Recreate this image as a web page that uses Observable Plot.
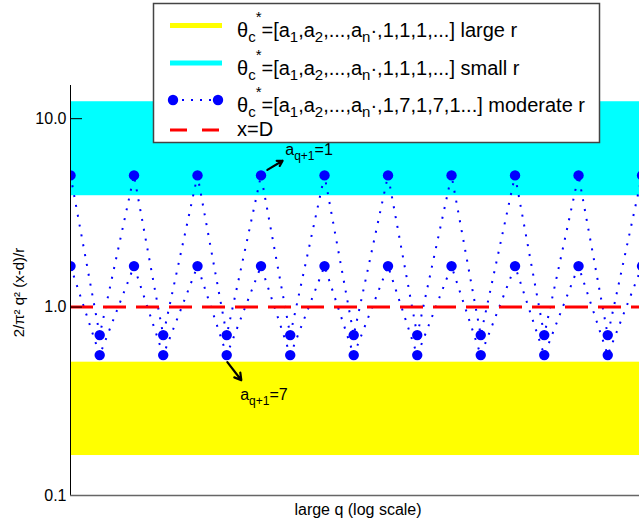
<!DOCTYPE html>
<html>
<head>
<meta charset="utf-8">
<script src="https://cdn.jsdelivr.net/npm/d3@7"></script>
<script src="https://cdn.jsdelivr.net/npm/@observablehq/plot@0.6"></script>
<style>
  body { margin: 0; background: #fff; }
  #fig { width: 639px; height: 524px; overflow: hidden; }
</style>
</head>
<body>
<div id="fig"></div>
<script>
// Convergent steps along the (log-spaced) q axis: whole steps follow a_{q+1}=1,
// the in-between steps follow a_{q+1}=7.
const qPos = [0, 0.46, 1, 1.46, 2, 2.46, 3, 3.46, 4, 4.46,
              5, 5.46, 6, 6.46, 7, 7.46, 8, 8.46, 9, 9.46];
// 2/pi^2 q^2 (x-d)/r for theta* = [a1,...,an',1,7,1,7,...], two interleaved sequences
const upperSeq = [5.0, 0.71, 5.0, 0.71, 5.0, 0.71, 5.0, 0.71, 5.0, 0.71,
                  5.0, 0.71, 5.0, 0.71, 5.0, 0.71, 5.0, 0.71, 5.0, 0.71];
const lowerSeq = [1.65, 0.556, 1.65, 0.556, 1.65, 0.556, 1.65, 0.556, 1.65, 0.556,
                  1.65, 0.556, 1.65, 0.556, 1.65, 0.556, 1.65, 0.556, 1.65, 0.556];
// ranges reached by theta* = [a1,...,an',1,1,1,...]
const largeRBand = [0.163, 0.51];
const smallRBand = [3.9, 12.3];
const xEqualsD = [1];
const yTicks = [0.1, 1, 10];
const yDomain = [0.1, 15];
const qDomain = [0, 8.96];

// annotation arrows and their labels
const arrowSpecs = [
  {x1: 3.10, y1: 5.35, x2: 3.34, y2: 5.98},
  {x1: 2.47, y1: 0.51, x2: 2.69, y2: 0.409}
];
const noteSpecs = [
  {q: 3.39, v: 6.36, value: "1"},
  {q: 2.68, v: 0.32, value: "7"}
];

const points = [
  ...qPos.map((q, i) => ({q, v: upperSeq[i], s: "upper"})),
  ...qPos.map((q, i) => ({q, v: lowerSeq[i], s: "lower"}))
];
const bands = [
  {lo: largeRBand[0], hi: largeRBand[1], color: "#ffff00"},
  {lo: smallRBand[0], hi: smallRBand[1], color: "#00ffff"}
];

const FONT = "'Liberation Sans', Arial, Helvetica, sans-serif";
const BLUE = "#0000ff";

const chart = Plot.plot({
  width: 639,
  height: 524,
  marginLeft: 70,
  marginRight: 0,
  marginTop: 85,
  marginBottom: 29,
  style: {fontFamily: FONT, fontSize: "16px", background: "#fff", color: "#000", overflow: "hidden"},
  x: {domain: qDomain, axis: null},
  y: {type: "log", domain: yDomain},
  marks: [
    Plot.rect(bands, {x1: () => qDomain[0], x2: () => qDomain[1], y1: "lo", y2: "hi", fill: "color"}),
    Plot.line(points, {x: "q", y: "v", z: "s", stroke: BLUE, strokeWidth: 2,
      strokeDasharray: "2,8", strokeLinecap: "butt", clip: true}),
    Plot.dot(points, {x: "q", y: "v", r: 5.2, fill: BLUE, clip: true}),
    Plot.ruleY(xEqualsD, {stroke: "#ff0000", strokeWidth: 3, strokeDasharray: "23,10"}),
    Plot.arrow(arrowSpecs, {x1: "x1", y1: "y1", x2: "x2", y2: "y2", stroke: "#000",
      strokeWidth: 2.2, headLength: 9}),
    Plot.axisY({ticks: yTicks, tickFormat: d3.format(".1f"), tickSize: -12, tickPadding: 16,
      fontSize: 16, label: null, stroke: "#000"}),
    Plot.ruleX([qDomain[0]], {stroke: "#000", strokeWidth: 1}),
    Plot.ruleY([yDomain[0]], {stroke: "#666", strokeWidth: 1.5}),
    Plot.text(["large q (log scale)"], {frameAnchor: "bottom", lineAnchor: "middle",
      textAnchor: "middle", dy: 14.5, dx: 3, fontSize: 16}),
    Plot.text(["2/π² q² (x-d)/r"], {frameAnchor: "left", textAnchor: "middle",
      lineAnchor: "middle", rotate: -90, dx: -51, dy: 2, fontSize: 15})
  ]
});
document.getElementById("fig").appendChild(chart);

const svg = d3.select(chart);
const sx = chart.scale("x"), sy = chart.scale("y");

// rich text with sub/superscripts: parts = [text, shift, size]
function richText(g, x, y, size, parts) {
  const t = g.append("text").attr("x", x).attr("y", y).attr("font-size", size)
    .attr("font-family", FONT).attr("text-anchor", "start").attr("fill", "#000");
  let cur = 0;
  for (const [str, shift = 0, fs = size] of parts) {
    t.append("tspan").attr("dy", shift - cur).attr("font-size", fs).text(str);
    cur = shift;
  }
  return t;
}

// annotations a_{q+1}=1 / a_{q+1}=7
const notes = svg.append("g");
for (const n of noteSpecs) {
  richText(notes, sx.apply(n.q), sy.apply(n.v), 16,
    [["a"], ["q+1", 5, 12], ["=" + n.value, 0]]);
}

// legend
const LG = 20, SUB = 15, DN = 5, UP = -15;
const head = [["θ"], ["c", DN, SUB], ["*", UP, SUB], ["=[a", 0], ["1", DN, SUB], [",a", 0],
  ["2", DN, SUB], [",...,a", 0], ["n", DN, SUB]];
const legendRows = [
  {y: 25.5, base: 37, kind: "band", color: "#ffff00", parts: [...head, ["·,1,1,1,...] large r", 0]]},
  {y: 63, base: 75, kind: "band", color: "#00ffff", parts: [...head, ["·,1,1,1,...] small r", 0]]},
  {y: 100, base: 112, kind: "dots", parts: [...head, ["·,1,7,1,7,1...] moderate r", 0]]},
  {y: 130, base: 136, kind: "dash", parts: [["x=D"]]}
];
const lg = svg.append("g");
lg.append("rect").attr("x", 153.5).attr("y", 3.5).attr("width", 446).attr("height", 139)
  .attr("fill", "#fff").attr("stroke", "#444").attr("stroke-width", 1.5);
for (const r of legendRows) {
  if (r.kind === "band") {
    lg.append("line").attr("x1", 170).attr("x2", 222).attr("y1", r.y).attr("y2", r.y)
      .attr("stroke", r.color).attr("stroke-width", 5);
  } else if (r.kind === "dots") {
    lg.append("line").attr("x1", 173).attr("x2", 218).attr("y1", r.y).attr("y2", r.y)
      .attr("stroke", BLUE).attr("stroke-width", 2).attr("stroke-dasharray", "2,7");
    for (const cx of [173, 218]) lg.append("circle").attr("cx", cx).attr("cy", r.y).attr("r", 5.2).attr("fill", BLUE);
  } else {
    lg.append("line").attr("x1", 170).attr("x2", 222).attr("y1", r.y).attr("y2", r.y)
      .attr("stroke", "#ff0000").attr("stroke-width", 3).attr("stroke-dasharray", "17,15");
  }
  richText(lg, 237, r.base, LG, r.parts);
}
</script>
</body>
</html>
